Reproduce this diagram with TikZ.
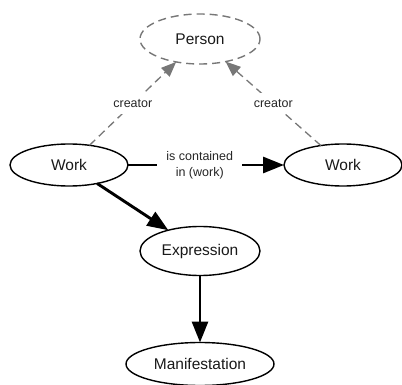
\documentclass[tikz,border=0pt]{standalone}
\usepackage{fontspec}
\setmainfont{Liberation Sans}
\usetikzlibrary{arrows.meta,shapes.geometric}
\definecolor{dgray}{HTML}{777777}
\tikzset{
  ent/.style={ellipse,draw=black,line width=1.4pt,inner sep=0pt,outer sep=0pt,font=\fontsize{15.5}{18}\selectfont,text=black!90},
  rel/.style={line width=2.9pt,-{Triangle[length=21pt,width=16pt]}},
  crel/.style={dgray,line width=1.3pt,dash pattern=on 8pt off 5pt,-{Triangle[length=15pt,width=12pt]}},
  lab/.style={fill=white,font=\fontsize{12.5}{16}\selectfont,text=black!85,align=center}
}
\begin{document}
\begin{tikzpicture}[x=1pt,y=-1pt]
\useasboundingbox (0,0) rectangle (402,385);
\node[ent,draw=dgray,dash pattern=on 8pt off 5pt,minimum width=120pt,minimum height=50pt] (p) at (200,39) {Person};
\node[ent,minimum width=118pt,minimum height=42pt] (w1) at (69,165) {Work};
\node[ent,minimum width=118pt,minimum height=42pt] (w2) at (343,165) {Work};
\node[ent,minimum width=120pt,minimum height=49pt] (e) at (200,251) {Expression};
\node[ent,minimum width=148pt,minimum height=43pt] (m) at (200,364) {Manifestation};
\draw[crel] (w1) -- node[lab,pos=0.5,inner sep=6pt] {creator} (p);
\draw[crel] (w2) -- node[lab,pos=0.5,inner sep=6pt] {creator} (p);
\draw[rel] (w1) -- node[lab,pos=0.46,inner xsep=9pt,inner ysep=2pt] {is contained\\in (work)} (w2);
\draw[rel] (w1) -- (e);
\draw[rel] (e) -- (m);
\end{tikzpicture}
\end{document}
